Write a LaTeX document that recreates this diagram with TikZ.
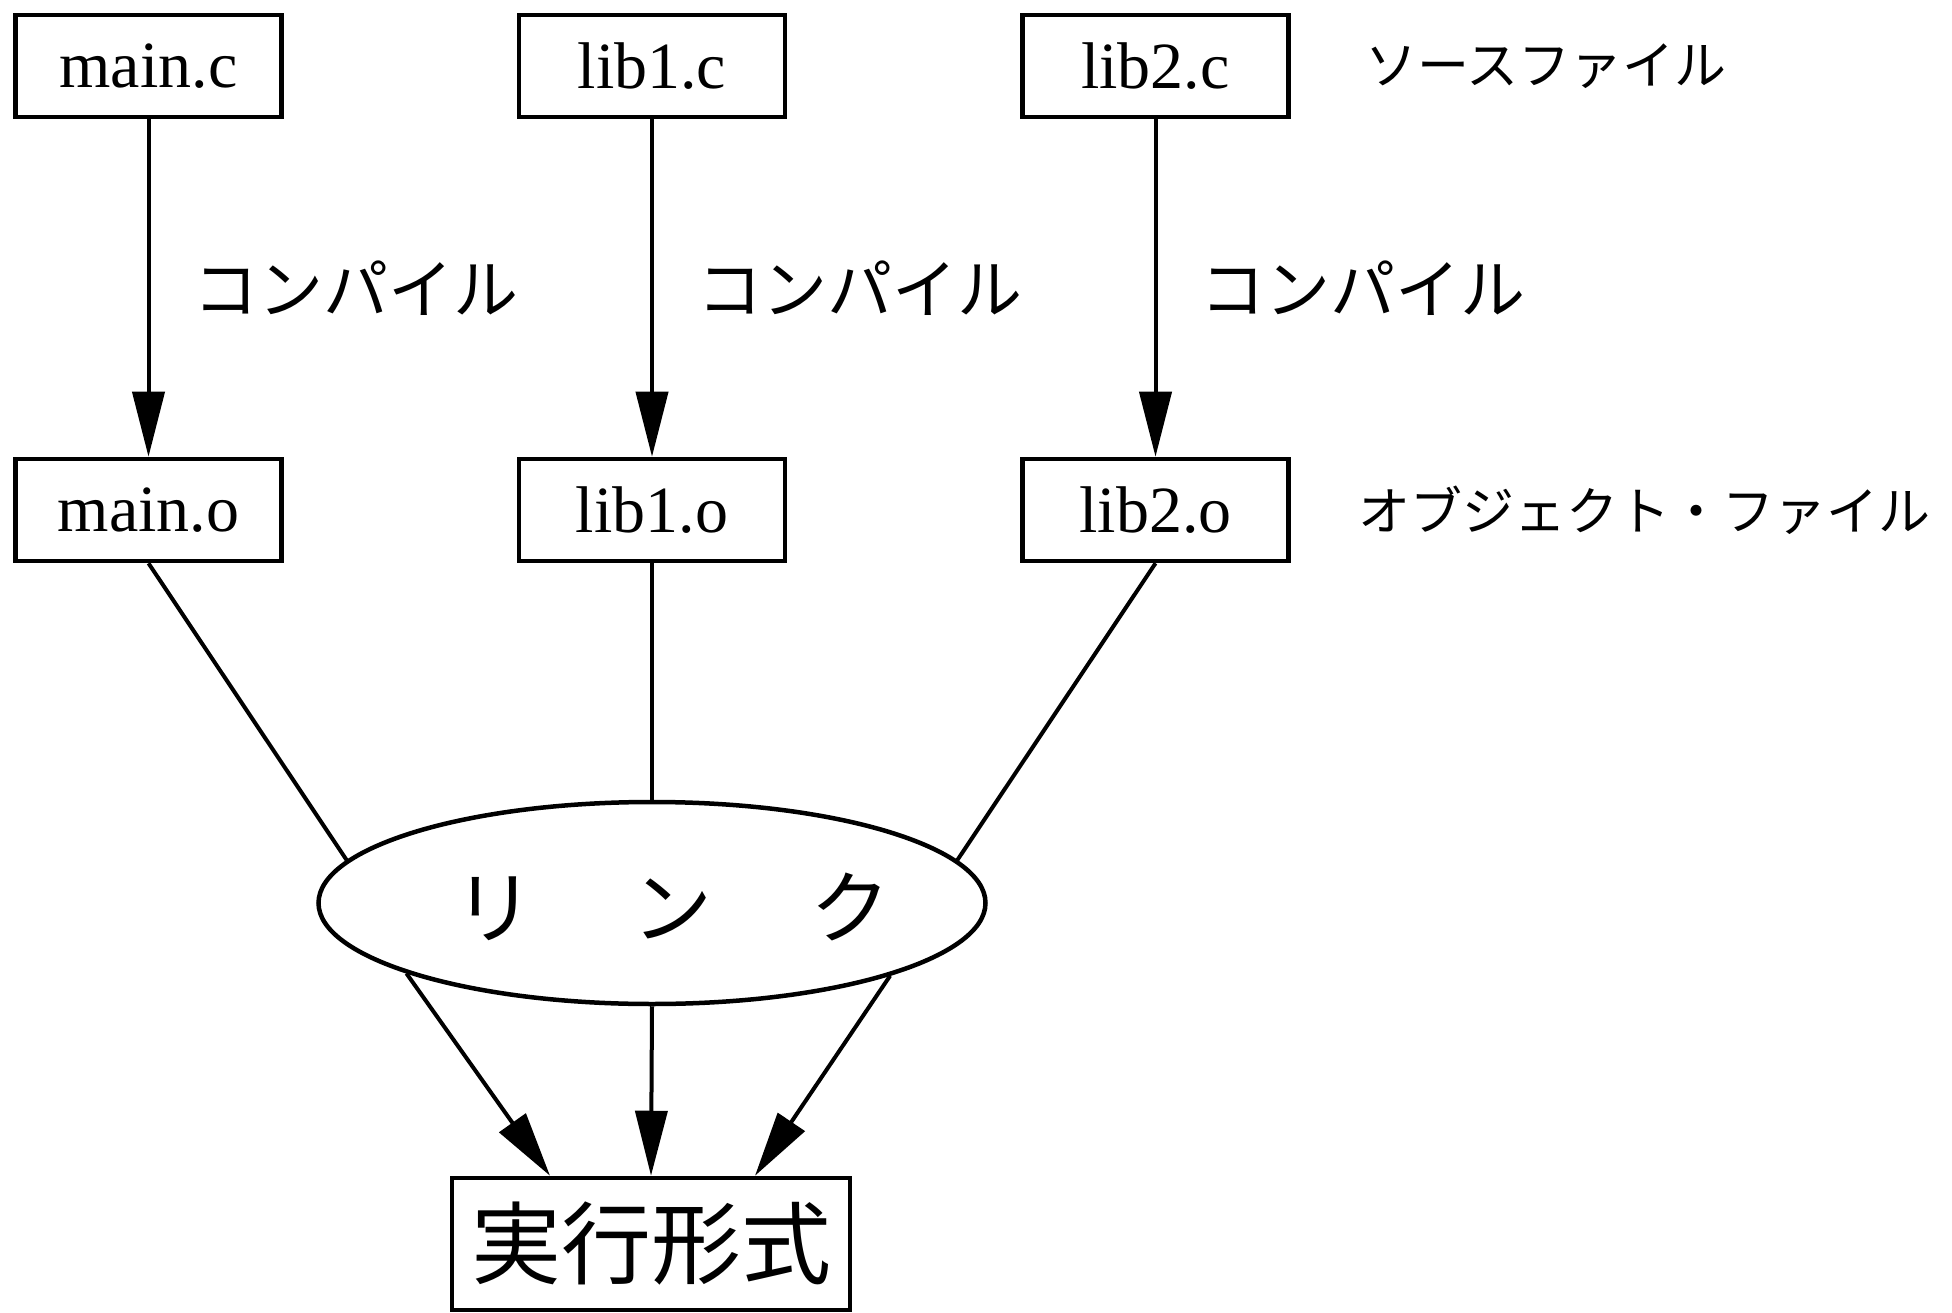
\documentclass[tikz,border=0pt]{standalone}
\usepackage{fontspec}
\setmainfont{Liberation Serif}
\newfontfamily\jp{Noto Sans CJK JP}
\usetikzlibrary{shapes.geometric,arrows.meta,calc}
\tikzset{
  filebox/.style={draw, line width=4.5pt, rectangle, inner sep=0pt,
    minimum width=266pt, minimum height=102pt,
    font=\fontsize{66pt}{70pt}\selectfont},
  lbl/.style={inner sep=0pt, font=\jp\fontsize{65pt}{70pt}\selectfont},
  side/.style={inner sep=0pt, anchor=west, font=\jp\fontsize{52pt}{56pt}\selectfont},
  edge/.style={line width=4pt},
  arr/.style={edge, -{Triangle[length=65pt,width=32pt]}},
}
\begin{document}
\begin{tikzpicture}[x=1pt,y=-1pt]
\useasboundingbox (0,0) rectangle (1952,1313);
\node[filebox] (mainc) at (148.5,66) {main.c};
\node[filebox] (lib1c) at (652,66) {lib1.c};
\node[filebox] (lib2c) at (1155.5,66) {lib2.c};
\node[filebox] (maino) at (148.5,510) {main.o};
\node[filebox] (lib1o) at (652,510) {lib1.o};
\node[filebox] (lib2o) at (1155.5,510) {lib2.o};
\node[side] (src) at (1365,66) {ソースファイル};
\node[side] (obj) at (1358,510) {オブジェクト・ファイル};
\draw[arr] (mainc) -- node[lbl, anchor=west, xshift=43pt] (c1) {コンパイル} (maino);
\draw[arr] (lib1c) -- node[lbl, anchor=west, xshift=43pt] (c2) {コンパイル} (lib1o);
\draw[arr] (lib2c) -- node[lbl, anchor=west, xshift=43pt] (c3) {コンパイル} (lib2o);
\node[draw, ellipse, line width=4.5pt, inner sep=0pt, minimum width=667pt, minimum height=202pt] (link) at (652,903) {};
\node[inner sep=0pt, font=\jp\fontsize{80pt}{84pt}\selectfont] (linktext) at (672,907) {リ\hspace{98pt}ン\hspace{98pt}ク};
\draw[edge] (maino.south) -- (link.172);
\draw[edge] (lib1o.south) -- (link.north);
\draw[edge] (lib2o.south) -- (link.8);
\node[draw, line width=4.5pt, inner sep=0pt, minimum width=398pt, minimum height=132pt,
  font=\jp\fontsize{90pt}{94pt}\selectfont] (exe) at (651,1244) {実行形式};
\draw[arr] (link.196.5) -- ($(exe.north)+(-101,0)$);
\draw[arr] (link.south) -- (exe.north);
\draw[arr] (link.343.5) -- ($(exe.north)+(104,0)$);
\end{tikzpicture}
\end{document}
